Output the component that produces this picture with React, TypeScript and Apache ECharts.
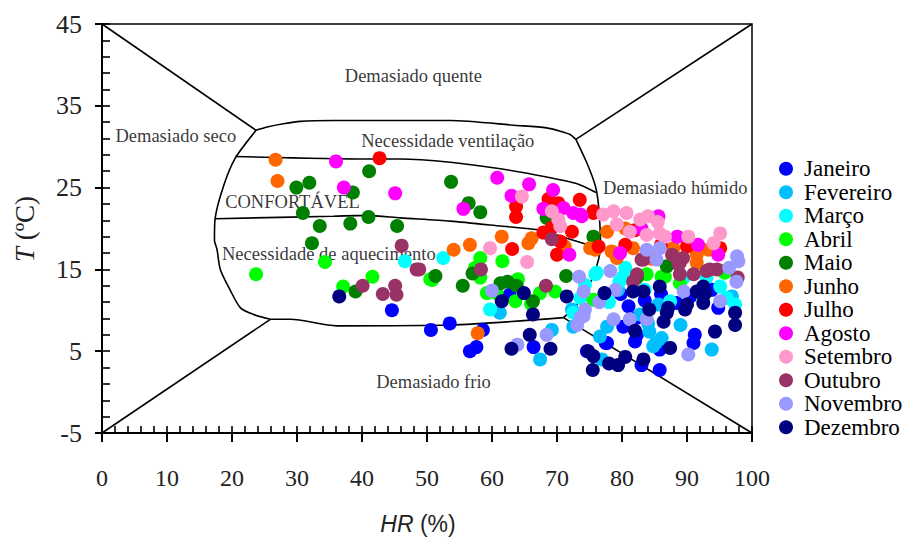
import React, { useEffect, useRef } from "react";
import * as echarts from "echarts";

const months = ["Janeiro", "Fevereiro", "Março", "Abril", "Maio", "Junho", "Julho", "Agosto", "Setembro", "Outubro", "Novembro", "Dezembro"];
const monthColors = ["#0000FF", "#00BFFF", "#00FFFF", "#00FF00", "#008000", "#FF6600", "#FF0000", "#FF00FF", "#FF99CC", "#993366", "#9999FF", "#000080"];

const janeiro = [[44.6,10.0],[50.6,7.6],[53.5,8.4],[58.6,7.6],[57.6,5.5],[56.6,5.0],[62.7,11.9],[66.4,5.5],[74.6,5.0],[77.7,6.0],[82.0,6.2],[82.3,7.0],[83.0,3.3],[85.8,2.7],[85.8,5.2],[91.0,6.0],[91.2,7.0],[94.8,10.3],[90.5,11.7],[82.3,9.1],[80.2,8.0],[79.8,12.0],[88.4,10.9],[86.0,12.0],[93.8,12.5],[77.5,6.0],[81.0,10.5],[83.5,11.2]];
const fevereiro = [[69.2,7.6],[67.4,4.0],[72.5,8.0],[77.7,8.0],[84.8,5.6],[86.1,6.6],[89.0,8.2],[93.8,5.2],[76.9,4.0],[84.2,7.4],[79.4,12.5],[85.6,10.7],[96.9,11.7],[76.6,6.8],[82.8,9.5],[61.2,9.7],[72.3,10.1],[84.0,8.4],[85.2,6.0]];
const marco = [[46.6,16.0],[52.5,16.4],[59.7,10.1],[72.5,9.7],[80.2,14.1],[76.1,14.6],[75.9,14.4],[74.3,13.1],[80.5,15.2],[79.6,13.5],[87.4,11.1],[95.1,12.9],[73.6,11.5],[89.5,14.0],[97.4,10.7],[78.0,11.0],[83.5,12.5],[93.0,14.0],[96.1,11.5]];
const abril = [[23.7,14.4],[34.3,15.9],[37.1,12.9],[41.6,14.1],[50.5,13.8],[50.8,13.7],[57.4,15.2],[58.2,14.0],[58.2,16.4],[61.6,16.0],[60.7,12.1],[59.2,12.1],[63.6,11.1],[67.4,12.1],[69.7,12.3],[75.6,11.3],[83.8,14.4],[86.6,14.1],[88.9,13.3],[95.8,14.6],[95.6,14.8],[86.1,14.1],[66.0,10.8],[92.5,11.5],[64.0,13.8]];
const maio = [[29.9,25.0],[31.9,25.6],[38.6,24.4],[41.1,27.0],[30.9,21.9],[33.5,20.3],[38.2,20.6],[41.0,21.4],[45.4,20.3],[32.3,18.2],[39.0,12.3],[51.3,14.2],[53.7,25.7],[56.4,23.1],[58.2,22.0],[68.4,21.3],[75.6,19.0],[55.5,13.0],[61.3,13.3],[62.4,13.5],[63.8,13.0],[66.3,11.1],[71.4,14.2],[86.9,15.4],[82.3,14.0],[57.0,14.5]];
const junho = [[26.7,28.4],[27.0,25.8],[54.1,17.4],[56.6,18.0],[61.5,19.0],[65.6,18.2],[66.1,18.8],[71.2,17.8],[75.9,17.4],[57.8,7.2],[77.7,19.6],[75.1,17.6],[78.4,17.2],[79.2,16.4],[81.7,17.6],[87.9,17.6],[91.5,16.8],[91.5,15.8],[80.5,20.0],[84.5,16.3],[93.3,17.4]];
const julho = [[42.7,28.6],[63.7,22.7],[63.7,21.4],[68.7,23.6],[70.2,23.1],[75.6,22.1],[67.9,19.5],[69.2,20.1],[72.3,19.6],[70.5,18.4],[70.0,16.8],[63.1,17.5],[75.6,21.9],[76.4,17.8],[80.5,18.0],[90.0,17.8],[95.1,17.6],[73.5,23.5],[82.0,19.8],[86.0,18.0]];
const agosto = [[36.0,28.2],[37.2,25.0],[45.1,24.3],[55.6,22.4],[60.8,26.2],[65.7,25.4],[63.0,24.0],[69.4,24.7],[67.9,22.4],[71.0,22.5],[72.5,21.9],[73.8,21.5],[73.6,21.7],[71.9,16.8],[85.6,21.5],[79.7,17.0],[91.7,18.0],[94.8,16.8],[83.0,20.0],[88.5,19.0]];
const setembro = [[64.6,23.9],[69.2,22.1],[70.2,21.1],[70.5,20.3],[59.7,17.6],[65.4,15.9],[77.1,21.7],[78.7,22.1],[80.7,21.9],[82.8,21.1],[79.2,20.5],[81.2,19.6],[83.8,19.2],[85.8,19.4],[86.6,19.0],[90.2,19.0],[95.1,19.4],[94.1,18.2],[84.0,21.5],[85.5,20.8]];
const outubro = [[46.1,17.9],[48.4,15.0],[48.8,15.0],[40.1,13.0],[43.2,12.0],[45.1,13.0],[45.3,11.9],[58.3,15.0],[68.3,13.0],[69.2,18.7],[83.0,16.2],[83.3,16.2],[87.7,16.8],[88.9,15.8],[91.0,14.4],[88.9,14.4],[82.3,14.4],[81.7,13.5],[93.5,15.0],[94.6,15.0],[93.0,14.8],[88.7,15.6],[89.4,16.4],[97.8,14.0]];
const novembro = [[60.0,12.4],[73.4,14.1],[74.1,12.3],[74.1,9.3],[73.1,8.2],[63.9,5.8],[68.4,7.0],[78.7,8.9],[81.2,8.9],[83.8,8.9],[90.2,4.6],[95.1,11.1],[97.6,13.5],[97.9,16.0],[97.7,16.6],[83.8,17.4],[85.8,17.6],[85.3,16.2],[78.2,14.8],[74.3,10.1],[73.6,9.1],[79.0,12.5],[89.5,12.3],[96.5,15.2],[76.5,11.0]];
const dezembro = [[36.5,11.7],[61.5,11.1],[64.9,12.1],[66.3,9.5],[65.8,7.0],[63.0,5.3],[69.0,5.3],[71.5,11.7],[75.6,4.4],[75.5,2.7],[74.8,5.0],[79.4,3.3],[80.5,4.3],[83.3,4.0],[87.4,5.4],[94.3,7.4],[97.4,9.7],[97.4,8.2],[86.4,8.6],[86.9,9.7],[87.1,10.3],[89.7,10.1],[90.0,10.7],[92.5,12.9],[92.8,12.1],[92.5,10.9],[91.5,12.3],[85.8,12.9],[81.7,12.3],[83.3,12.3],[84.2,10.1],[77.3,12.1],[78.0,3.5],[82.0,7.5]];
const monthData = [janeiro, fevereiro, marco, abril, maio, junho, julho, agosto, setembro, outubro, novembro, dezembro];

// zone boundaries (HR %, T ºC)
const diagTopLeft = [[0,45],[23.7,32.0]];
const outerTop = [[23.7,32.0],[25.4,32.4],[27.9,32.8],[30.5,33.1],[35.6,33.2],[53.6,33.2],[63.8,32.6],[68.4,32.3],[70.5,31.9],[72.0,31.5],[72.9,30.9]];
const diagTopRight = [[72.9,30.9],[100,45]];
const leftSide = [[23.7,32.0],[20.5,28.6],[18.7,25.2],[17.4,21.2],[17.3,18.6],[17.7,17.4],[18.2,15.0],[19.7,12.5],[21.3,10.3],[23.3,9.5],[25.9,8.9]];
const diagBottomLeft = [[0,-5],[25.9,8.9]];
const bottomSide = [[25.9,8.9],[29.0,8.9],[36.1,8.1],[53.6,8.2],[71.0,9.1]];
const diagBottomRight = [[71.0,9.1],[100,-5]];
const rightSide = [[72.9,30.9],[74.6,28.0],[75.9,25.2],[76.4,22.7],[76.7,17.8],[76.1,15.4],[74.8,12.8],[73.1,10.7],[71.0,9.1]];
const ventLine = [[20.5,28.8],[40.8,28.5],[45.9,28.5],[53.6,28.1],[61.3,27.3],[68.4,26.3],[73.0,25.5],[76.0,24.4]];
const comfortLine = [[17.4,21.2],[35.6,21.5],[40.8,21.6],[45.9,21.3],[53.6,20.9],[61.3,20.3],[67.4,19.8],[71.5,18.8],[76.4,17.6]];
const boundaries = [diagTopLeft, outerTop, diagTopRight, leftSide, diagBottomLeft, bottomSide, diagBottomRight, rightSide, ventLine, comfortLine];

const zoneNames = ["Demasiado quente", "Demasiado seco", "Necessidade ventilação", "CONFORTÁVEL", "Demasiado húmido", "Necessidade de aquecimento", "Demasiado frio"];
const zonePos = [[47.9,38.6],[11.35,31.3],[53.2,30.7],[29.3,23.3],[88.2,24.9],[34.9,16.9],[51.0,1.2]];

const SERIF = "'Liberation Serif', 'Times New Roman', 'DejaVu Serif', serif";
const SANS = "'Liberation Sans', Arial, sans-serif";

export default function App() {
  const ref = useRef<HTMLDivElement>(null);
  useEffect(() => {
    if (!ref.current) return;
    const chart = echarts.init(ref.current, null, { renderer: "svg" });
    const series: any[] = [];
    boundaries.forEach((b, i) => {
      series.push({
        type: "line",
        name: "b" + i,
        data: b,
        showSymbol: false,
        symbol: "none",
        smooth: b.length > 3 ? 0.25 : false,
        lineStyle: { color: "#000", width: 1.6 },
        z: 1,
        silent: true,
      });
    });
    series.push({
      type: "scatter",
      name: "zones",
      data: zoneNames.map((n, i) => ({ name: n, value: zonePos[i] })),
      symbolSize: 0,
      z: 1,
      label: { show: true, position: "inside", formatter: "{b}", color: "#000", fontFamily: SERIF, fontSize: 18.5 },
      silent: true,
    });
    months.forEach((m, i) => {
      series.push({
        type: "scatter",
        name: m,
        data: monthData[i],
        symbol: "circle",
        symbolSize: 14,
        itemStyle: { color: monthColors[i], opacity: 1 },
        z: 2,
      });
    });
    chart.setOption({
      animation: false,
      backgroundColor: "#fff",
      grid: { left: 102, top: 24, width: 650, height: 409, show: true, borderColor: "#000", borderWidth: 1.5, backgroundColor: "transparent" },
      legend: {
        data: months,
        orient: "vertical",
        left: 774,
        top: 152,
        itemWidth: 14,
        itemHeight: 14,
        itemGap: 0,
        icon: "circle",
        textStyle: { fontFamily: SERIF, fontSize: 23, lineHeight: 23.5, color: "#000", padding: [0, 0, 0, 6] },
      },
      xAxis: [
        {
          type: "value", min: 0, max: 100, interval: 10, position: "bottom",
          axisLine: { show: true, onZero: false, lineStyle: { color: "#000", width: 2 } },
          axisTick: { show: true, inside: false, length: 9, lineStyle: { color: "#000", width: 2 } },
          axisLabel: { margin: 33, fontFamily: SERIF, fontSize: 24, color: "#222" },
          splitLine: { show: false },
        },
        {
          type: "value", min: 0, max: 100, interval: 2, position: "bottom",
          axisLine: { show: false, onZero: false },
          axisTick: { show: true, inside: true, length: 7, lineStyle: { color: "#000", width: 1.6 } },
          axisLabel: { show: false },
          splitLine: { show: false },
        },
      ],
      yAxis: [
        {
          type: "value", min: -5, max: 45, interval: 10, position: "left",
          axisLine: { show: true, onZero: false, lineStyle: { color: "#000", width: 2 } },
          axisTick: { show: true, inside: false, length: 7, lineStyle: { color: "#000", width: 2 } },
          axisLabel: { margin: 20, fontFamily: SERIF, fontSize: 26, color: "#222" },
          splitLine: { show: false },
        },
        {
          type: "value", min: -5, max: 45, interval: 2, position: "left",
          axisLine: { show: false, onZero: false },
          axisTick: { show: true, inside: true, length: 8, lineStyle: { color: "#000", width: 1.6 } },
          axisLabel: { show: false },
          splitLine: { show: false },
        },
      ],
      graphic: [
        {
          type: "text", x: 25, y: 229, rotation: Math.PI / 2,
          style: {
            text: "{i|T} (ºC)",
            font: "27px " + SERIF,
            fill: "#222",
            align: "center",
            verticalAlign: "middle",
            rich: { i: { fontStyle: "italic", fontFamily: SERIF, fontSize: 27, fill: "#222" } },
          },
        },
        {
          type: "text", x: 418, y: 524,
          style: {
            text: "{i|HR} (%)",
            font: "23px " + SANS,
            fill: "#222",
            align: "center",
            verticalAlign: "middle",
            rich: { i: { fontStyle: "italic", fontFamily: SANS, fontSize: 23, fill: "#222" } },
          },
        },
      ],
      series,
    });
    return () => chart.dispose();
  }, []);
  return <div ref={ref} style={{ position: "fixed", left: 0, top: 0, width: 904, height: 538 }} />;
}
